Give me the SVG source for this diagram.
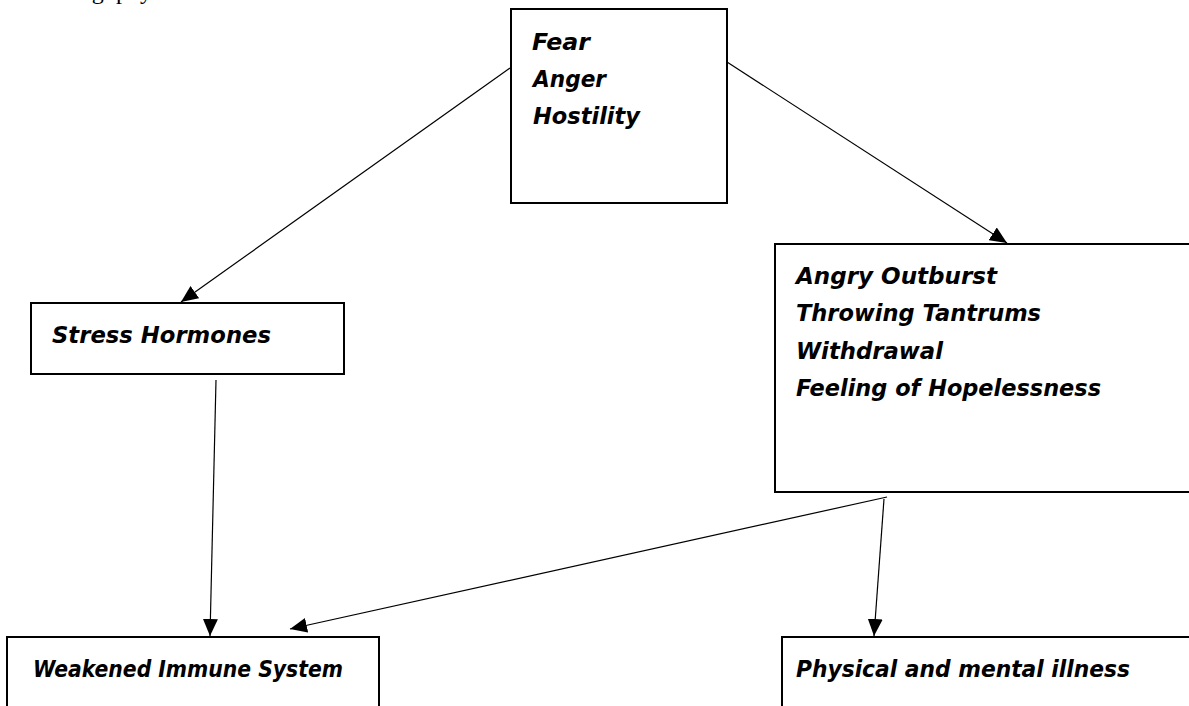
<svg xmlns="http://www.w3.org/2000/svg" width="1189" height="706" viewBox="0 0 1189 706">
  <style>
    .box { fill: #ffffff; stroke: #000000; stroke-width: 2; }
    .lbl { font-family: "Comic Sans MS", "DejaVu Sans", sans-serif; font-size: 23px; font-weight: bold; font-style: italic; fill: #000000; }
    .edge { stroke: #000000; stroke-width: 1.2; fill: none; marker-end: url(#arrow); }
    .page { font-family: "Liberation Serif", "Times New Roman", serif; font-size: 24px; fill: #000000; }
  </style>
  <defs>
    <marker id="arrow" markerUnits="userSpaceOnUse" markerWidth="17" markerHeight="15" refX="17" refY="7.5" orient="auto">
      <path d="M0,0 L17,7.5 L0,15 Z" fill="#000000"/>
    </marker>
  </defs>
  <rect width="1189" height="706" fill="#ffffff"/>
  <text class="page" y="-1"><tspan x="73">ing</tspan><tspan x="116">physical</tspan></text>

  <g id="connectors">
    <line class="edge" x1="510" y1="68" x2="181" y2="302"/>
    <line class="edge" x1="727" y1="62" x2="1007" y2="243"/>
    <line class="edge" x1="216" y1="380" x2="210" y2="636"/>
    <line class="edge" x1="887" y1="497" x2="290" y2="629"/>
    <line class="edge" x1="884" y1="499" x2="874" y2="636"/>
  </g>

  <g id="node-fear">
    <rect class="box" x="511" y="9" width="216" height="194"/>
    <text class="lbl" x="532" y="50" textLength="58" lengthAdjust="spacingAndGlyphs">Fear</text>
    <text class="lbl" x="533" y="87" textLength="73" lengthAdjust="spacingAndGlyphs">Anger</text>
    <text class="lbl" x="533" y="124" textLength="107" lengthAdjust="spacingAndGlyphs">Hostility</text>
  </g>

  <g id="node-behaviour">
    <rect class="box" x="775" y="244" width="425" height="248"/>
    <text class="lbl" x="796" y="284" textLength="201" lengthAdjust="spacingAndGlyphs">Angry Outburst</text>
    <text class="lbl" x="796" y="321" textLength="245" lengthAdjust="spacingAndGlyphs">Throwing Tantrums</text>
    <text class="lbl" x="796" y="359" textLength="147" lengthAdjust="spacingAndGlyphs">Withdrawal</text>
    <text class="lbl" x="796" y="396" textLength="305" lengthAdjust="spacingAndGlyphs">Feeling of Hopelessness</text>
  </g>

  <g id="node-stress">
    <rect class="box" x="31" y="303" width="313" height="71"/>
    <text class="lbl" x="52" y="343" textLength="219" lengthAdjust="spacingAndGlyphs">Stress Hormones</text>
  </g>

  <g id="node-immune">
    <rect class="box" x="7" y="637" width="372" height="80"/>
    <text class="lbl" x="33" y="677" textLength="310" lengthAdjust="spacingAndGlyphs">Weakened Immune System</text>
  </g>

  <g id="node-illness">
    <rect class="box" x="782" y="637" width="420" height="80"/>
    <text class="lbl" x="796" y="677" textLength="334" lengthAdjust="spacingAndGlyphs">Physical and mental illness</text>
  </g>
</svg>
